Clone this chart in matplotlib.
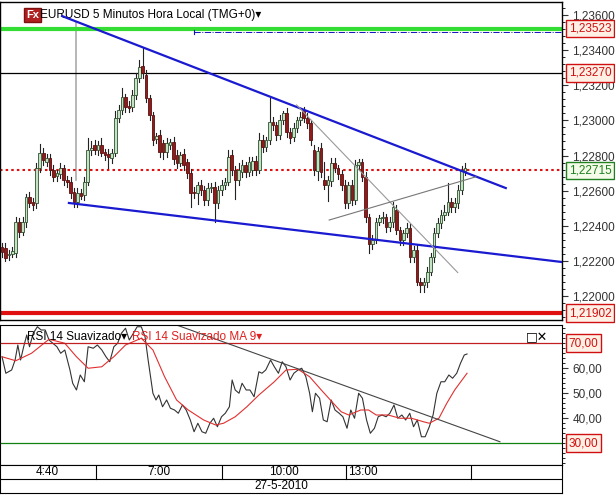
import matplotlib
matplotlib.use("Agg")
import matplotlib.pyplot as plt
import matplotlib.transforms as mtransforms
from matplotlib.ticker import MultipleLocator, FuncFormatter
from matplotlib.patches import Rectangle

plt.rcParams['font.family'] = ['Liberation Sans', 'DejaVu Sans']

# ---------------- data ----------------
opens = [1.22280,1.22274,1.22234,1.22240,1.22245,1.22422,1.22365,1.22422,1.22564,1.22536,
         1.22530,1.22729,1.22815,1.22763,1.22786,1.22718,1.22684,1.22695,1.22729,1.22661,
         1.22650,1.22593,1.22536,1.22587,1.22575,1.22650,1.22831,1.22860,1.22831,1.22860,
         1.22820,1.22809,1.22786,1.22815,1.23013,1.23059,1.23133,1.23082,1.23076,1.23144,
         1.23241,1.23310,1.23258,1.23127,1.23030,1.22894,1.22917,1.22871,1.22820,1.22860,
         1.22877,1.22803,1.22758,1.22809,1.22763,1.22701,1.22593,1.22587,1.22632,1.22604,
         1.22547,1.22615,1.22621,1.22530,1.22604,1.22632,1.22650,1.22803,1.22718,1.22661,
         1.22706,1.22746,1.22706,1.22718,1.22769,1.22718,1.22888,1.22848,1.22888,1.22990,
         1.22973,1.22917,1.23002,1.23042,1.22934,1.22905,1.22956,1.23002,1.23059,1.23013,
         1.22985,1.22831,1.22712,1.22843,1.22661,1.22632,1.22655,1.22758,1.22729,1.22695,
         1.22632,1.22530,1.22632,1.22547,1.22746,1.22763,1.22678,1.22450,1.22297,1.22320,
         1.22422,1.22444,1.22450,1.22393,1.22422,1.22490,1.22376,1.22320,1.22359,1.22388,
         1.22223,1.22263,1.22081,1.22064,1.22081,1.22138,1.22223,1.22359,1.22416,1.22462,
         1.22479,1.22536,1.22507,1.22530,1.22604,1.22712]
closes = [1.22251,1.22217,1.22240,1.22257,1.22422,1.22365,1.22422,1.22564,1.22530,1.22518,
          1.22729,1.22815,1.22775,1.22786,1.22718,1.22678,1.22700,1.22729,1.22661,1.22650,
          1.22587,1.22536,1.22587,1.22570,1.22650,1.22831,1.22843,1.22831,1.22860,1.22815,
          1.22803,1.22792,1.22815,1.23013,1.23059,1.23133,1.23076,1.23070,1.23144,1.23241,
          1.23304,1.23270,1.23127,1.23030,1.22888,1.22911,1.22820,1.22820,1.22871,1.22877,
          1.22780,1.22758,1.22803,1.22746,1.22701,1.22587,1.22587,1.22632,1.22604,1.22547,
          1.22615,1.22621,1.22530,1.22604,1.22632,1.22650,1.22792,1.22718,1.22661,1.22718,
          1.22746,1.22706,1.22763,1.22769,1.22718,1.22888,1.22848,1.22888,1.22990,1.22973,
          1.22917,1.23002,1.23042,1.22934,1.22900,1.22956,1.23002,1.23019,1.23013,1.22985,
          1.22888,1.22718,1.22826,1.22706,1.22632,1.22661,1.22758,1.22729,1.22695,1.22632,
          1.22530,1.22632,1.22547,1.22746,1.22763,1.22678,1.22450,1.22297,1.22320,1.22422,
          1.22444,1.22450,1.22393,1.22422,1.22507,1.22376,1.22320,1.22359,1.22388,1.22223,
          1.22263,1.22081,1.22064,1.22081,1.22138,1.22223,1.22359,1.22416,1.22462,1.22479,
          1.22536,1.22507,1.22530,1.22604,1.22718,1.22729]
# wick lengths in pips (0.0001)
wick_up = [2,3,2,2,3,2,3,2,3,2, 3,5,3,2,2,3,2,3,2,2, 3,2,3,2,3,7,4,3,2,4,
           2,3,2,4,3,5,2,3,3,3, 4,10,3,2,2,2,3,2,3,2, 3,3,2,3,2,2,3,2,3,2,
           3,2,3,2,3,2,4,3,2,4, 3,2,3,2,3,4,3,2,14,3, 2,3,1,3,2,3,2,3,2,3,
           2,3,2,3,10,2,3,3,2,2, 3,2,3,3,2,2,3,2,3,2, 2,3,2,3,3,3,2,2,3,2,
           2,3,2,2,3,2,3,3,3,4, 11,2,3,3,2,3]
wick_dn = [3,2,3,2,2,3,2,3,2,3, 3,2,3,2,3,2,3,2,3,3, 3,3,3,2,3,2,3,2,3,2,
           3,6,3,2,2,2,3,2,2,2, 2,3,2,3,3,2,3,4,3,2, 3,3,2,3,3,8,3,6,3,3,
           3,2,11,3,3,2,2,3,11,3, 3,3,2,3,3,2,3,2,2,3, 3,2,2,3,3,2,2,3,2,3,
           3,3,5,3,2,9,3,2,3,3, 3,3,3,2,3,2,3,5,3,2, 2,3,3,2,3,2,3,3,2,3,
           3,2,4,4,3,2,3,2,3,3, 2,3,3,3,2,2]

rsi_t = [0,1.1,2.8,3.8,4.6,5.4,6.3,7.2,8.0,9.1,10.3,11.4,12.6,13.7,14.8,16.0,17.1,18.3,19.8,20.6,
         21.7,22.8,24.0,25.1,26.6,27.8,29.1,30.3,31.4,32.6,33.7,34.8,36.0,37.1,38.3,39.4,40.6,41.7,42.6,44.0,
         44.9,45.7,46.8,48.0,49.1,50.3,51.4,52.6,53.7,54.9,56.0,57.1,58.3,59.4,60.6,61.7,62.8,64.0,65.1,66.3,
         67.1,68.0,69.1,70.0,71.2,72.3,73.5,74.9,75.8,76.9,78.3,79.4,80.6,81.7,82.8,84.0,85.1,86.3,87.4,88.6,
         89.7,90.5,91.4,92.6,93.7,94.8,96.0,97.1,98.3,99.4,100.6,101.7,102.8,104.0,105.1,106.3,107.4,108.6,109.7,110.8,
         112.0,113.1,114.3,115.4,116.6,117.7,118.9,120.0,121.1,122.3,123.4,124.6,125.7,126.8,128.0,129.1,130.3,131.4,132.6,133.7,
         134.8,135.6]
rsi = [64.5,57.9,59.2,63.2,69.2,63.2,68.5,73.2,68.5,73.9,76.5,75.2,75.2,71.2,69.9,68.5,65.9,67.2,59.2,53.9,
       51.2,57.2,54.5,68.5,67.9,69.2,67.2,64.5,62.5,68.5,69.9,73.9,75.9,71.2,73.9,76.5,76.5,72.5,63.2,49.9,
       47.2,49.2,44.5,47.2,43.9,43.2,41.9,45.2,43.2,39.2,34.5,37.9,34.5,33.9,37.9,39.9,36.5,40.5,41.9,44.5,
       55.2,51.2,49.9,53.9,51.2,51.2,48.5,58.5,57.9,59.2,63.2,60.5,57.9,62.5,60.5,55.2,57.9,59.2,59.9,56.5,
       49.9,42.5,49.9,47.9,39.2,38.5,47.2,43.2,41.9,40.5,35.9,43.2,39.9,49.9,47.9,39.2,33.9,35.9,40.5,41.2,
       40.5,41.9,45.2,39.9,41.2,39.2,41.9,36.5,39.2,32.5,32.5,36.5,41.2,49.9,54.5,54.5,57.2,55.9,57.9,61.9,
       65.2,65.6]
ma_t = [0,4.0,8.6,13.7,18.3,21.7,25.1,29.1,31.4,32.6,36.0,40.6,44.0,47.4,50.9,54.3,58.8,62.3,64.6,68.0,
        71.4,74.9,79.4,82.8,86.3,89.7,93.1,96.6,98.9,101.1,104.6,106.9,109.1,112.6,116.0,119.4,122.9,124.6,127.4,129.7,
        132.0,135.6]
ma = [64.5,62.9,65.9,71.5,69.9,64.5,59.9,60.5,63.2,64.5,69.2,71.9,67.2,56.5,47.2,43.2,39.2,37.2,37.9,40.5,
      44.5,49.2,54.5,59.2,59.5,56.5,51.2,45.9,42.5,41.2,43.2,43.2,41.2,41.2,39.9,39.9,38.5,37.9,39.9,45.9,
      51.2,57.9]

time_labels = ["4:40", "7:00", "10:00", "13:00"]
time_pos = [13.1, 45.8, 82.2, 105.3]
time_seps = [27.4, 64.1, 100.3, 136.7]
date_label = "27-5-2010"

levels = {"green": 1.23523, "black": 1.23270, "current": 1.22715, "red": 1.21902}
upper_tl = ([17.5, 146.9], [1.23594, 1.22615])
lower_tl = ([19.5, 163.3], [1.22530, 1.22194])
gray_dn = ([85.9, 132.9], [1.23088, 1.22134])
gray_up = ([95.4, 138.2], [1.22433, 1.22679])
rsi_tl = ([50.9, 145.2], [77.2, 30.5])

# ---------------- figure ----------------
W, H = 615, 495
fig = plt.figure(figsize=(W/100, H/100), dpi=100)
fig.patch.set_facecolor("white")
XL = (-0.6, 163.3)
axw = 562/W
FS = 8.5

ax = fig.add_axes([0, (H-320)/H, axw, 318/H])
ax.set_xlim(*XL)
ax.set_ylim(1.21864, 1.23674)

for i, (o, c) in enumerate(zip(opens, closes)):
    hi = max(o, c) + wick_up[i]*0.0001
    lo = min(o, c) - wick_dn[i]*0.0001
    ax.plot([i, i], [lo, hi], color="#222222", lw=0.8, zorder=3)
    up = c >= o
    fc = "#c4e2c4" if up else "#8e1c1c"
    ec = "#2f4f2f" if up else "#5a0f0f"
    h = max(abs(c-o), 0.00003)
    ax.add_patch(Rectangle((i-0.38, min(o, c)), 0.76, h, facecolor=fc, edgecolor=ec, lw=0.6, zorder=4))

ax.axhline(levels["green"], color="#33dd33", lw=3, zorder=2)
ax.axhline(levels["black"], color="black", lw=0.9, zorder=2)
ax.axhline(levels["current"], color="#e01010", lw=1.5, ls=(0, (1.2, 1.5)), zorder=2)
ax.axhline(levels["red"], color="#e01010", lw=3, zorder=2)
ax.plot([56, 163.3], [1.23503, 1.23503], color="#1010c0", lw=0.7, ls="-.", zorder=2)
ax.plot([56, 56], [1.23490, 1.23516], color="#1010c0", lw=0.8)
ax.plot([21.6, 21.6], [1.2266, 1.2356], color="#aaaaaa", lw=1.2, zorder=1)
ax.plot(*upper_tl, color="#1a1ad0", lw=1.6, zorder=5)
ax.plot(*lower_tl, color="#1a1ad0", lw=1.6, zorder=5)
ax.plot(*gray_dn, color="#999999", lw=0.8, zorder=5)
ax.plot(*gray_up, color="#777777", lw=0.8, zorder=5)

ax.yaxis.tick_right()
ax.yaxis.set_major_locator(MultipleLocator(0.002))
ax.yaxis.set_minor_locator(MultipleLocator(0.0004))
ax.yaxis.set_major_formatter(FuncFormatter(lambda v, p: f"{v:.5f}".replace(".", ",")))
ax.tick_params(axis="y", labelsize=FS, colors="#333333", length=4, direction="out")
ax.tick_params(axis="y", which="minor", length=2)
ax.set_xticks([])
for s in ax.spines.values():
    s.set_color("black"); s.set_linewidth(1)

tr = mtransforms.blended_transform_factory(ax.transAxes, ax.transData)
for key, txt, col, fcol in [("green", "1,23523", "#d01010", "#fff0e6"),
                            ("black", "1,23270", "#d01010", "#fff0e6"),
                            ("current", "1,22715", "#208020", "#f4fbe8"),
                            ("red", "1,21902", "#d01010", "#fff0e6")]:
    ax.text(1.012, levels[key], txt, transform=tr, fontsize=FS, color=col, va="center", ha="left",
            bbox=dict(boxstyle="square,pad=0.25", fc=fcol, ec=col, lw=1), clip_on=False, zorder=10)

ax.text(0.046, 0.975, "Fx", transform=ax.transAxes, fontsize=8, color="white", fontweight="bold",
        va="top", bbox=dict(boxstyle="square,pad=0.15", fc="#b02020", ec="#801010"))
ax.text(0.071, 0.978, "EURUSD 5 Minutos Hora Local (TMG+0)\u25be", transform=ax.transAxes,
        fontsize=FS, va="top", color="black", family=['Liberation Sans', 'DejaVu Sans'])

# ---------------- RSI ----------------
ax2 = fig.add_axes([0, 30/H, axw, 140/H])
ax2.set_xlim(*XL)
ax2.set_ylim(21.2, 77.2)
ax2.plot(rsi_t, rsi, color="#333333", lw=0.8)
ax2.plot(ma_t, ma, color="#e03030", lw=0.8)
ax2.axhline(70, color="#c02020", lw=0.9)
ax2.axhline(30, color="#108010", lw=0.9)
ax2.plot(*rsi_tl, color="#444444", lw=0.8)
ax2.yaxis.tick_right()
ax2.set_yticks([40, 50, 60])
ax2.yaxis.set_minor_locator(MultipleLocator(2))
ax2.yaxis.set_major_formatter(FuncFormatter(lambda v, p: f"{v:.2f}".replace(".", ",")))
ax2.tick_params(axis="y", labelsize=FS, colors="#333333", length=4)
ax2.tick_params(axis="y", which="minor", length=2)
ax2.set_xticks([])
tr2 = mtransforms.blended_transform_factory(ax2.transAxes, ax2.transData)
for v in (70, 30):
    ax2.text(1.012, v, f"{v:.2f}".replace(".", ","), transform=tr2, fontsize=FS, color="#d01010",
             va="center", bbox=dict(boxstyle="square,pad=0.25", fc="#fff0e6", ec="#d01010", lw=1), clip_on=False)
ax2.text(0.048, 0.955, "RSI 14 Suavizado\u25be", transform=ax2.transAxes, fontsize=FS, va="top",
         color="black", family=['Liberation Sans', 'DejaVu Sans'])
ax2.text(0.235, 0.955, "RSI 14 Suavizado MA 9\u25be", transform=ax2.transAxes, fontsize=FS, va="top",
         color="#e02020", family=['Liberation Sans', 'DejaVu Sans'])
ax2.text(0.975, 0.955, "\u25a1\u2715", transform=ax2.transAxes, fontsize=9, va="top", ha="right",
         family=['DejaVu Sans'])

# ---------------- time axis ----------------
ax3 = fig.add_axes([0, 2/H, axw, 28/H])
ax3.set_xlim(*XL); ax3.set_ylim(0, 2)
ax3.set_xticks([]); ax3.set_yticks([])
ax3.axhline(1, color="black", lw=0.8)
for s in time_seps:
    ax3.plot([s, s], [1, 2], color="black", lw=0.8)
for lab, pos in zip(time_labels, time_pos):
    ax3.text(pos, 1.5, lab, ha="center", va="center", fontsize=FS)
ax3.text(sum(XL)/2, 0.5, date_label, ha="center", va="center", fontsize=FS)

fig.savefig("out.png", dpi=100)
